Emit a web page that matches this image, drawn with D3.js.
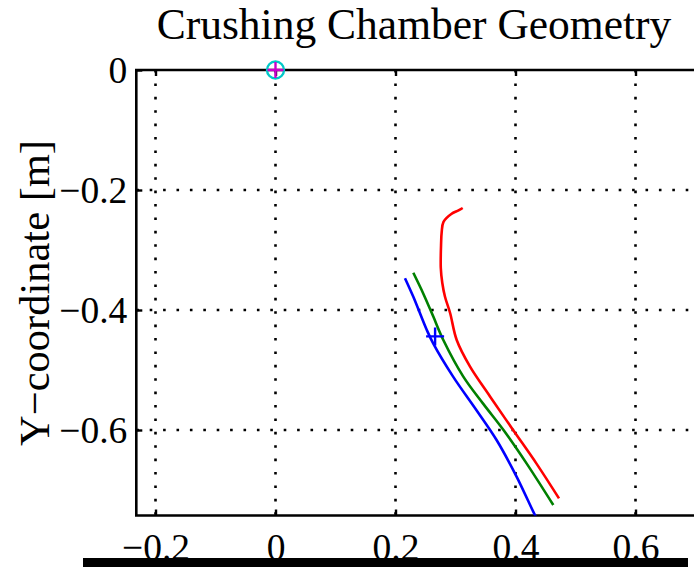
<!DOCTYPE html>
<html>
<head>
<meta charset="utf-8">
<script src="https://cdn.jsdelivr.net/npm/d3@7"></script>
<style>
  body { margin: 0; background: #fff; }
  svg { display: block; }
  text { font-family: "Liberation Serif", "DejaVu Serif", serif; fill: #000; }
</style>
</head>
<body>
<div class="container"></div>
<script>
// chart data
const xTicks = [-0.2, 0, 0.2, 0.4, 0.6];
const yTicks = [0, -0.2, -0.4, -0.6];

const redX = [0.312, 0.305, 0.293, 0.280, 0.277, 0.276, 0.2755, 0.278, 0.2825, 0.291, 0.302, 0.324, 0.3575, 0.396, 0.435, 0.4725];
const redY = [-0.230, -0.234, -0.240, -0.253, -0.270, -0.289, -0.330, -0.355, -0.378, -0.405, -0.450, -0.494, -0.544, -0.600, -0.656, -0.714];

const greenX = [0.2297, 0.246, 0.263, 0.2797, 0.313, 0.346, 0.380, 0.4187, 0.463];
const greenY = [-0.338, -0.372, -0.411, -0.450, -0.511, -0.556, -0.600, -0.656, -0.725];

const blueX = [0.2158, 0.2297, 0.252, 0.263, 0.296, 0.335, 0.3687, 0.402, 0.4325, 0.437];
const blueY = [-0.347, -0.378, -0.433, -0.456, -0.511, -0.567, -0.617, -0.678, -0.742, -0.750];

const blueMarker = [0.266, -0.444];
const origin = [0, 0];

const width = 694;
const height = 567;
const xlim = [-0.232, 0.75];
const ylim = [-0.7425, 0];

const x = d3.scaleLinear().domain([-0.2, 0.6]).range([155.5, 635.5]);
const y = d3.scaleLinear().domain([0, -0.6]).range([70, 430]);

const plotLeft = x(xlim[0]), plotRight = x(xlim[1]);
const plotTop = y(ylim[1]), plotBottom = y(ylim[0]);

const svg = d3.select('.container')
  .append('svg')
  .attr('width', width)
  .attr('height', height);

svg.append('defs').append('clipPath')
  .attr('id', 'plotclip')
  .append('rect')
  .attr('x', plotLeft).attr('y', plotTop)
  .attr('width', plotRight - plotLeft).attr('height', plotBottom - plotTop);

// dotted grid
const grid = svg.append('g')
  .attr('stroke', '#000')
  .attr('stroke-width', 2.6)
  .attr('stroke-dasharray', '2.6 10.8');

grid.selectAll('.vg')
  .data(xTicks)
  .enter()
  .append('line')
  .attr('x1', d => x(d)).attr('x2', d => x(d))
  .attr('y1', plotTop).attr('y2', plotBottom);

grid.selectAll('.hg')
  .data(yTicks.filter(d => d !== 0))
  .enter()
  .append('line')
  .attr('x1', plotLeft).attr('x2', plotRight)
  .attr('y1', d => y(d)).attr('y2', d => y(d));

// axes
const fmt = d => d === 0 ? '0' : d3.format('.1f')(d);

svg.append('g')
  .attr('transform', `translate(0,${plotBottom})`)
  .call(d3.axisBottom(x).tickValues(xTicks).tickSize(-6).tickPadding(18).tickFormat(fmt));

svg.append('g')
  .attr('transform', `translate(0,${plotTop})`)
  .call(d3.axisTop(x).tickValues(xTicks).tickSize(-6).tickFormat(''));

svg.append('g')
  .attr('transform', `translate(${plotLeft},0)`)
  .call(d3.axisLeft(y).tickValues(yTicks).tickSize(-6).tickPadding(9).tickFormat(fmt));

svg.selectAll('.domain').remove();
svg.selectAll('.tick line').attr('stroke', '#000').attr('stroke-width', 2.4);
svg.selectAll('.tick text')
  .style('font-family', '"Liberation Serif", serif')
  .style('font-size', '37.5px')
  .attr('fill', '#000');

// axes box
svg.append('path')
  .attr('d', `M${plotRight},${plotTop}H${plotLeft}V${plotBottom}H${plotRight}`)
  .attr('fill', 'none')
  .attr('stroke', '#000')
  .attr('stroke-width', 2.6);

// curves
const line = d3.line()
  .x(d => x(d[0]))
  .y(d => y(d[1]))
  .curve(d3.curveCatmullRom.alpha(0.5));
const curves = [
  { xs: redX, ys: redY, color: '#ff0000' },
  { xs: greenX, ys: greenY, color: '#008000' },
  { xs: blueX, ys: blueY, color: '#0000ff' }
];

const plot = svg.append('g').attr('clip-path', 'url(#plotclip)');
plot.selectAll('.curve')
  .data(curves)
  .enter()
  .append('path')
  .attr('class', 'curve')
  .attr('d', d => line(d.xs.map((v, i) => [v, d.ys[i]])))
  .attr('fill', 'none')
  .attr('stroke', d => d.color)
  .attr('stroke-width', 2.6)
  .attr('stroke-linejoin', 'round');

// blue plus marker
const mx = x(blueMarker[0]), my = y(blueMarker[1]);
plot.append('path')
  .attr('d', `M${mx - 9},${my}H${mx + 9}M${mx},${my - 9}V${my + 9}`)
  .attr('stroke', '#0000ff')
  .attr('stroke-width', 2.4);

// origin marker: cyan circle with magenta plus
const ox = x(origin[0]), oy = y(origin[1]);
svg.append('circle')
  .attr('cx', ox).attr('cy', oy).attr('r', 8.5)
  .attr('fill', 'none')
  .attr('stroke', '#00c8c8')
  .attr('stroke-width', 2.4);
svg.append('path')
  .attr('d', `M${ox - 8},${oy}H${ox + 8}M${ox},${oy - 8}V${oy + 8}`)
  .attr('stroke', '#cc00cc')
  .attr('stroke-width', 2.4);

// title and label
svg.append('text')
  .attr('x', 414)
  .attr('y', 39)
  .attr('text-anchor', 'middle')
  .style('font-size', '43.5px')
  .text('Crushing Chamber Geometry');

svg.append('text')
  .attr('transform', 'translate(49,293) rotate(-90)')
  .attr('text-anchor', 'middle')
  .style('font-size', '42.5px')
  .text('Y\u2212coordinate [m]');

// black bar at the bottom edge
svg.append('rect')
  .attr('x', 83).attr('y', 558)
  .attr('width', 605).attr('height', 9)
  .attr('fill', '#000');
</script>
</body>
</html>
